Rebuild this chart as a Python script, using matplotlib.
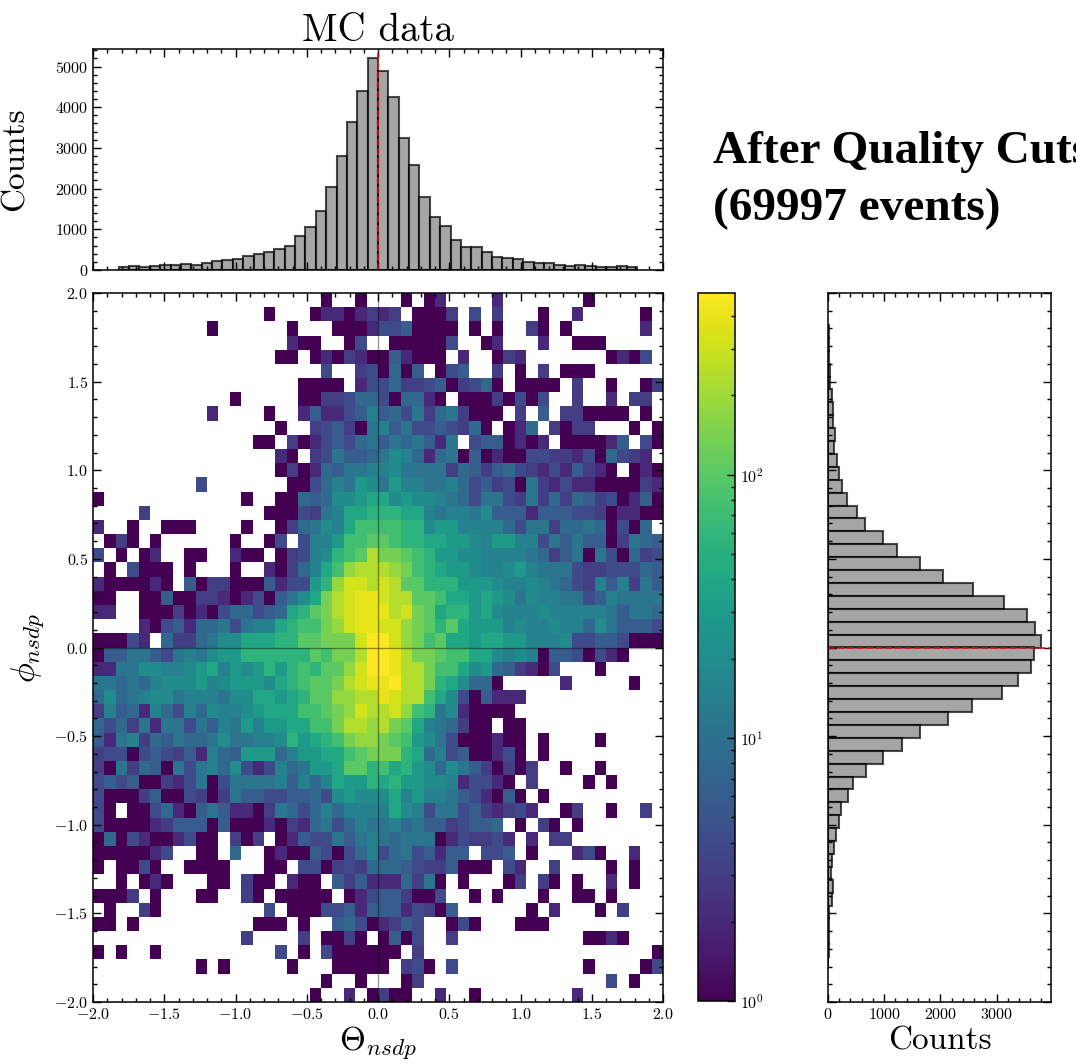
import matplotlib
matplotlib.use("Agg")
import matplotlib.pyplot as plt
import matplotlib.patheffects as pe
import numpy as np
from matplotlib.colors import LogNorm
from matplotlib.ticker import MultipleLocator, NullFormatter

plt.rcParams['font.family'] = ['cmr10', 'DejaVu Serif']
plt.rcParams['mathtext.fontset'] = 'cm'
plt.rcParams['axes.formatter.use_mathtext'] = True
plt.rcParams['axes.unicode_minus'] = True

# counts, left to right
theta_counts = [75, 90, 80, 105, 115, 130, 145, 130, 180, 220,
                240, 280, 335, 400, 450, 525, 600, 835, 1065, 1445,
                2035, 2790, 3625, 4400, 5200, 4900, 4250, 3255, 2580, 1805,
                1295, 1090, 740, 560, 565, 450, 330, 300, 265, 205,
                180, 175, 130, 110, 115, 105, 85, 80, 105, 65]

# counts, top to bottom
phi_counts = [15, 25, 25, 30, 30, 70, 95, 90, 120, 110,
              155, 190, 250, 340, 525, 655, 985, 1235, 1635, 2040,
              2585, 3125, 3550, 3680, 3785, 3670, 3620, 3385, 3100, 2570,
              2140, 1640, 1320, 975, 670, 440, 355, 240, 200, 150,
              100, 70, 60, 85, 65, 25, 25, 20, 12, 8]

# letter per cell -> approximate count, read from the colours
count_levels = {'.': 0, 'a': 1, 'b': 2, 'c': 3, 'd': 4, 'e': 6, 'f': 8, 'g': 11,
                'h': 15, 'i': 20, 'j': 28, 'k': 40, 'l': 55, 'm': 75, 'n': 100,
                'o': 135, 'p': 180, 'q': 240, 'r': 320, 's': 400, 't': 470}

# 2D histogram, top row first, each row is left half + right half
grid_rows = [
    "....................a..a." "..a.ab....b.......a......",
    "...............a...abbabc" "bc.aaac.d.c...a..b.....a.",
    "..........a......a...aaab" "ddeaaaa.a.a..ca.a......b.",
    ".................baa..ad." ".aaaaad..ab...b..aaa.....",
    "................aa.abacba" "aebaaa.b..acb.......abad.",
    "....................d..cd" "afae.ade..c.a.c.aaa......",
    "..................aaaa.bd" "dfccdeacdfa.aaaa.c..a..ac",
    "............a.....aaccdff" "daffba.aaacadad..c..b.cc.",
    "..........b....a..bebbdeh" "efdgcfgcaaa.c.e.ccaaaa.a.",
    "................a..cdecag" "hegddedcfa.abf.cacc...a.a",
    "..............aa.cabdedfg" "egfgebg.deeabab.aaaabe.da",
    "................ba.cdgeef" "gihfbfgaeabaaddccbdafdcb.",
    "................acabfeggh" "higgggcfecefdcbdbecba.aba",
    ".........d.......aadfhgji" "gjhhgghfdecdagcbdbbaaaacb",
    "a............a..aafefiijk" "kijiihgfdggdcgcfcfecdabea",
    "....c..........aaadcghkkl" "llkkhghhgieeebeeeddcabbaa",
    "b..a..aaa....a..acfgihkmm" "mmllijjhhhhfdggcffgfadaf.",
    ".aca.a......a..ad.dhhjmmn" "nmllkkjjihjjhhdgegeeacgfe",
    "d.a.ab..aa..baa.acdhilmnq" "oonmljjiihhhhgfcegagdafcd",
    ".a.daaa.a...a..bacfhkmpqq" "qpomlkjjihhijhgggdccdddfe",
    "baaaaba.eaccaaaebddjlprrq" "rqnnllljjjihhihgfdchehcge",
    "aa..aaeaaccbabdaegikoqrss" "rqqnnmkkjkjigihhggdehgggg",
    "bb..aaacabadffdefklnoqrss" "sqronklljkihhhihhhhhgeggf",
    "....badebffgdghhklmmoprss" "rrponlnkjjjhihhihhfigeeed",
    "aaadb.fccfgiikkkllnnooort" "trpomnkkjkkjjhhhiddeedaaa",
    "aeeggedghgijjllllllnmooqt" "tsqoonmmkkihihaeedadba...",
    "bbggiihhijkhjijljlmlnnprt" "tsqqommkijfecbad...a.....",
    "ggfgfhiiijhijjjiklmnnoqrs" "stqqolkiffa.....b.....a..",
    "fifghiighhhgiikkjklnnppqq" "srqqmkidaebbb............",
    "chefbhfdhfihhijkkkmmnoprq" "qrpmlgibaaaa.............",
    "fdfcgbggdgehgjhjjkkmmoqqp" "qonkhgfcaa.aa............",
    "ebghcfegffgigghhiljklmopp" "onmjigdaaabaa.a....a.....",
    "cddadedcebhfejjjfhjjkkmno" "oolkfhdeaabda.a..........",
    "cagcfeagdghfidbdhfgjjknnl" "mkljifigecacac..a..a.....",
    "dedeaacbdgadgggghehfhkjjl" "kljjiihbddba.c....a.a....",
    "daaaceaadcacgeeddeefdijii" "ikhjhhgedbaea.a..........",
    "da.aadfbaegebbacgfdfhfhhh" "hkihdggdecbcdb..ac..a..c.",
    "daaaabceeeaeaaabacbfgdfhg" "ghfgeecdeef.a.ca.a.......",
    "afadbaabdaa.cac.abeddgegh" "gfgggabdccdb.b.cc........",
    "aaaaabd..aa.f..abaaedadfh" "dfgdebee.dde.a...bda..b..",
    "a.aada..aaaa...aa.ddacdcf" "ffedcceaaa.db..c....a.a..",
    "..a.aba...aa.caa.baa.eceb" "bbfcga.a...ac.ca.a..b.a..",
    "aaac.a...aa..ca.aaaaa.abd" "eecaad..a.a...a..aa.a....",
    ".a..ca.........d.aaaddebe" "eebdcae......a.b...a.c...",
    "aa.a..........aaa.a..efda" "bced..ada...aaa..........",
    ".............c....c.aaca." "aead..c...........aaba...",
    "a.a..a..........d.a.daaaa" "aa.c....................a",
    ".........a.a.....a...aaaa" "a.cda.d...........a....ad",
    "....................a..a." "..ac................d.a..",
    "...................a..b.a" "caa..b..a........b.......",
]

grid = np.array([[count_levels[c] for c in row] for row in grid_rows], dtype=float)
grid = np.ma.masked_equal(grid[::-1], 0)

W, H = 1076, 1064


def box(x0, y0, x1, y1):
    return [x0 / W, 1 - y1 / H, (x1 - x0) / W, (y1 - y0) / H]


def style(ax, xmajor, xminor, ymajor, yminor):
    ax.xaxis.set_major_locator(MultipleLocator(xmajor))
    ax.xaxis.set_minor_locator(MultipleLocator(xminor))
    ax.yaxis.set_major_locator(MultipleLocator(ymajor))
    ax.yaxis.set_minor_locator(MultipleLocator(yminor))
    ax.tick_params(which='both', direction='in', top=True, right=True, width=1)
    ax.tick_params(which='major', length=6, labelsize=11.5)
    ax.tick_params(which='minor', length=3)
    for s in ax.spines.values():
        s.set_linewidth(1.1)


fig = plt.figure(figsize=(W / 100, H / 100), dpi=100)

ax_top = fig.add_axes(box(93, 49, 663, 270))
ax_main = fig.add_axes(box(93, 293, 663, 1002))
cax = fig.add_axes(box(698, 293, 735, 1001))
ax_right = fig.add_axes(box(828, 293, 1051, 1002))

# main panel
x_edges = np.linspace(-2, 2, 51)
y_edges = np.linspace(-2, 2, 51)
mesh = ax_main.pcolormesh(x_edges, y_edges, grid, cmap='viridis', norm=LogNorm(vmin=1, vmax=490))
ax_main.axvline(0, color='k', lw=1, alpha=0.4)
ax_main.axhline(0, color='k', lw=1, alpha=0.4)
ax_main.set_xlim(-2, 2)
ax_main.set_ylim(-2, 2)
style(ax_main, 0.5, 0.1, 0.5, 0.1)
ax_main.set_xlabel(r'$\Theta_{nsdp}$', fontsize=24, labelpad=2)
ax_main.set_ylabel(r'$\phi_{nsdp}$', fontsize=24, labelpad=6)

# marginals use their own bins, over the range of the data
hist_edges = np.linspace(-1.82, 1.82, 51)
hist_width = hist_edges[1] - hist_edges[0]

ax_top.bar(hist_edges[:-1], theta_counts, width=hist_width, align='edge',
           color='gray', edgecolor='k', linewidth=1.5, alpha=0.7)
ax_top.axvline(0, color='red', ls='--', lw=1.3, alpha=0.8)
ax_top.set_xlim(-2, 2)
ax_top.set_ylim(0, 5430)
style(ax_top, 0.5, 0.1, 1000, 200)
ax_top.xaxis.set_major_formatter(NullFormatter())
ax_top.set_ylabel('Counts', fontsize=24)
ax_top.yaxis.set_label_coords(-0.112, 0.5)
ax_top.set_title('MC data', fontsize=28, pad=5)

ax_right.barh(hist_edges[::-1][1:], phi_counts, height=hist_width, align='edge',
              color='gray', edgecolor='k', linewidth=1.5, alpha=0.7)
ax_right.axhline(0, color='red', ls='--', lw=1.3, alpha=0.8)
ax_right.set_xlim(0, 3970)
ax_right.set_ylim(-2, 2)
style(ax_right, 1000, 200, 0.5, 0.1)
ax_right.yaxis.set_major_formatter(NullFormatter())
ax_right.set_xlabel('Counts', fontsize=24, labelpad=3)

# colour bar
cb = fig.colorbar(mesh, cax=cax)
cb.ax.tick_params(which='major', direction='in', length=6, width=1, labelsize=11.5)
cb.ax.tick_params(which='minor', direction='in', length=3, width=1)
cb.outline.set_linewidth(1.1)

fig.text(713 / W, 1 - 152 / H, 'After Quality Cuts', fontsize=34, fontweight='bold',
         family='Liberation Serif', va='center', ha='left', color='k')
fig.text(713 / W, 1 - 209 / H, '(69997 events)', fontsize=34, fontweight='bold',
         family='Liberation Serif', va='center', ha='left', color='k')

fig.savefig('out.png', dpi=100)
plt.close(fig)
